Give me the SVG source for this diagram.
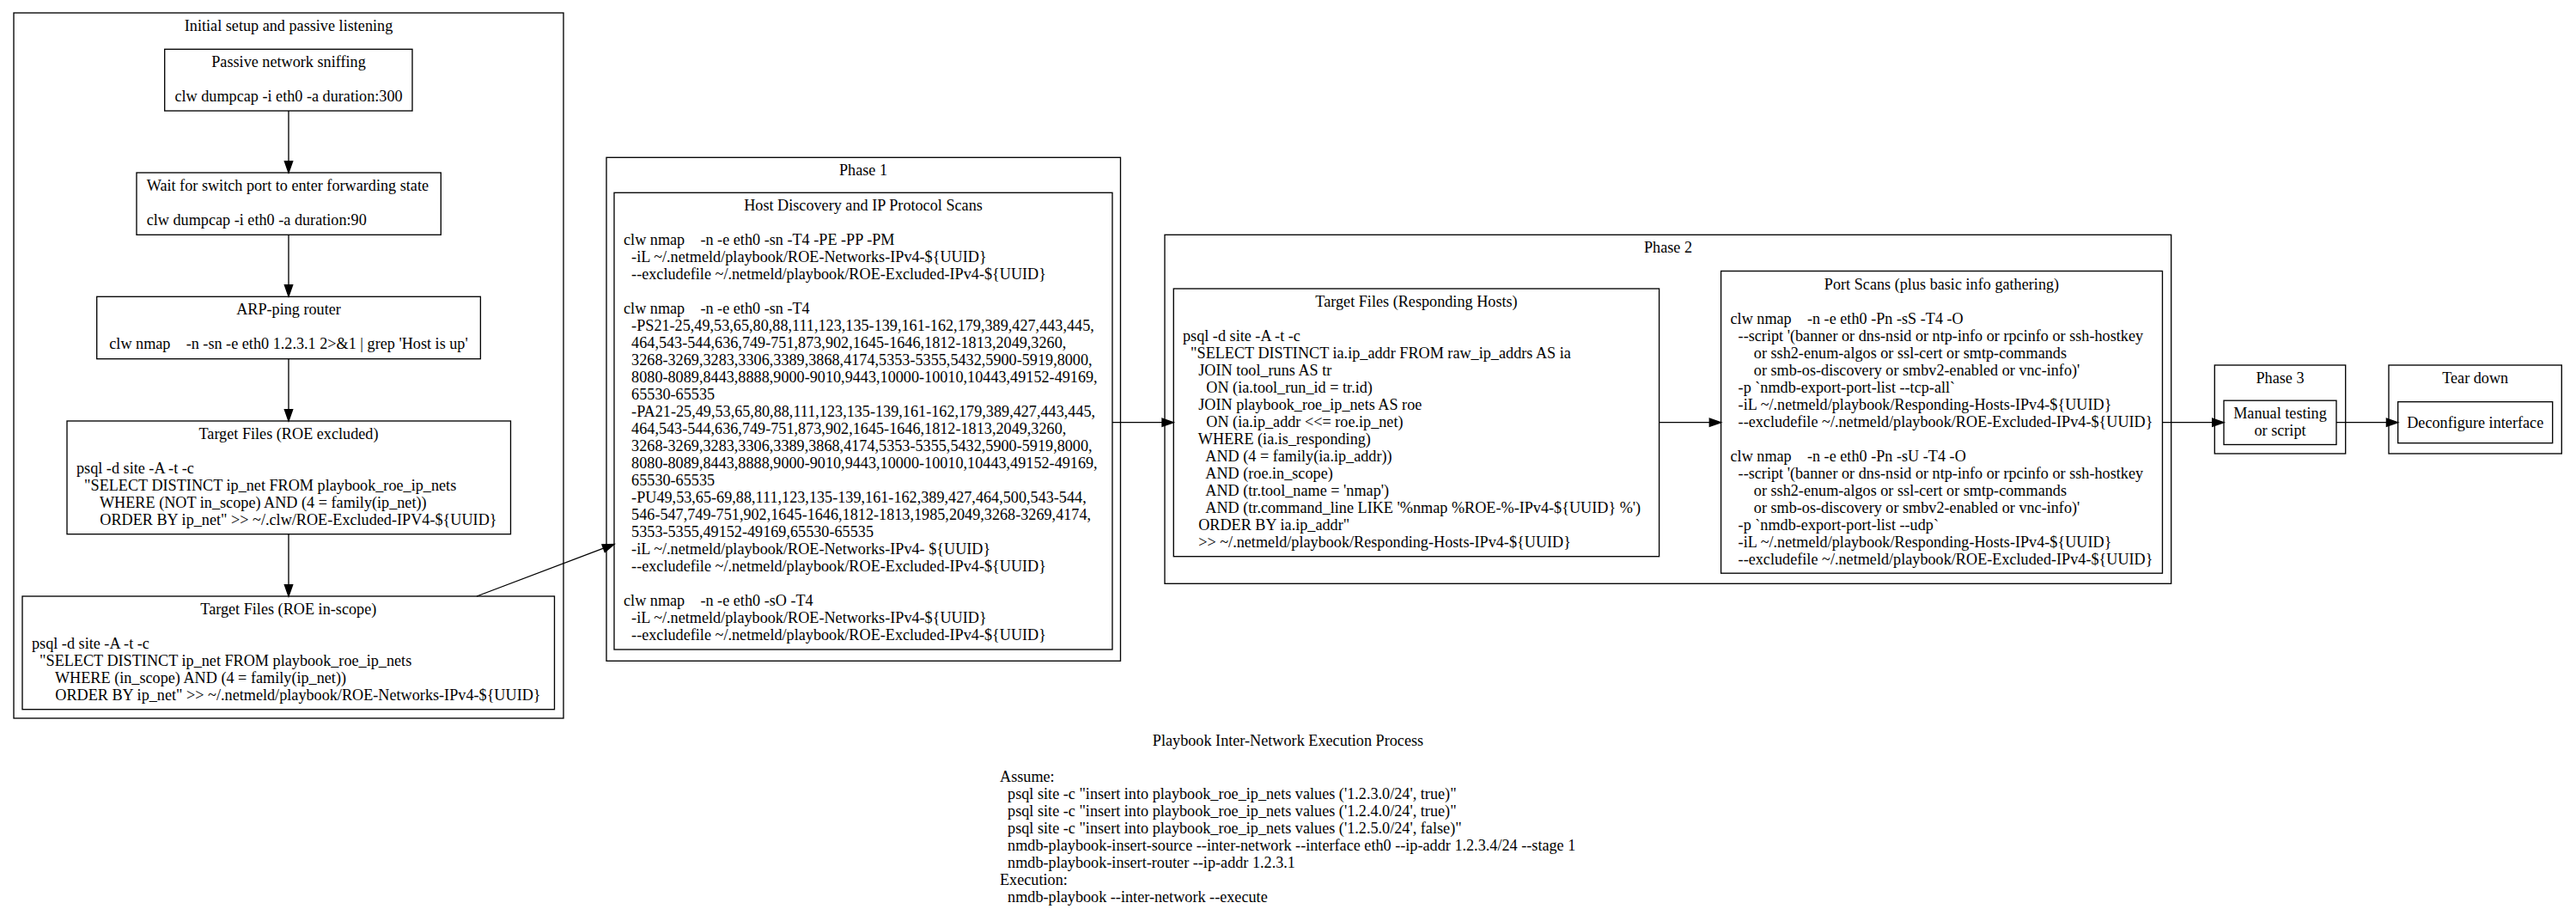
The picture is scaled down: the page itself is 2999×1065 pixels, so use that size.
<svg xmlns="http://www.w3.org/2000/svg" width="2999" height="1065" viewBox="0 0 2999 1065" xml:space="preserve">
<style>
text { font-family: "Liberation Serif", "Times New Roman", serif; font-size: 18.2px; fill: #000; white-space: pre; }
.c { text-anchor: middle; }
.box { fill: none; stroke: #000; stroke-width: 1.33; }
.edge { fill: none; stroke: #000; stroke-width: 1.33; marker-end: url(#arrow); }
</style>
<defs>
<marker id="arrow" markerUnits="userSpaceOnUse" markerWidth="13.3" markerHeight="9.3" viewBox="0 0 13.3 9.3" refX="0" refY="4.65" orient="auto" overflow="visible">
<path d="M0,0 L13.3,4.65 L0,9.3 z" fill="#000" stroke="#000" stroke-width="1.33"/>
</marker>
</defs>
<rect width="2999" height="1065" fill="#fff"/>

<!-- cluster: initial setup -->
<g id="cluster_initial">
<rect class="box" x="16" y="15" width="640" height="821"/>
<text class="c" x="336" y="35.7">Initial setup and passive listening</text>
</g>
<g id="node_passive">
<rect class="box" x="191.7" y="57.3" width="288.3" height="71.7"/>
<text class="c" x="336" y="78.3">Passive network sniffing</text>
<text class="c" x="336" y="118.3">clw dumpcap -i eth0 -a duration:300</text>
</g>
<g id="node_wait">
<rect class="box" x="159" y="201" width="354.3" height="72.3"/>
<text x="170.7" y="222">Wait for switch port to enter forwarding state</text>
<text x="170.7" y="262.3">clw dumpcap -i eth0 -a duration:90</text>
</g>
<g id="node_arp">
<rect class="box" x="112.7" y="345.3" width="446.7" height="72.4"/>
<text class="c" x="336" y="366.3">ARP-ping router</text>
<text class="c" x="336" y="406.3">clw nmap    -n -sn -e eth0 1.2.3.1 2&gt;&amp;1 | grep 'Host is up'</text>
</g>
<g id="node_roe_excluded">
<rect class="box" x="78" y="490" width="516.5" height="131.7"/>
<text class="c" x="336" y="511">Target Files (ROE excluded)</text>
<text x="89" y="551">psql -d site -A -t -c</text>
<text x="89" y="571">  "SELECT DISTINCT ip_net FROM playbook_roe_ip_nets</text>
<text x="89" y="591">      WHERE (NOT in_scope) AND (4 = family(ip_net))</text>
<text x="89" y="611">      ORDER BY ip_net" &gt;&gt; ~/.clw/ROE-Excluded-IPV4-${UUID}</text>
</g>
<g id="node_roe_inscope">
<rect class="box" x="26" y="694" width="619.5" height="131.7"/>
<text class="c" x="335.8" y="715">Target Files (ROE in-scope)</text>
<text x="37" y="755">psql -d site -A -t -c</text>
<text x="37" y="775">  "SELECT DISTINCT ip_net FROM playbook_roe_ip_nets</text>
<text x="37" y="795">      WHERE (in_scope) AND (4 = family(ip_net))</text>
<text x="37" y="815">      ORDER BY ip_net" &gt;&gt; ~/.netmeld/playbook/ROE-Networks-IPv4-${UUID}</text>
</g>

<!-- cluster: phase 1 -->
<g id="cluster_phase1">
<rect class="box" x="706" y="183.3" width="598.5" height="586"/>
<text class="c" x="1005" y="203.5">Phase 1</text>
</g>
<g id="node_host_discovery">
<rect class="box" x="715" y="224.3" width="580" height="531.7"/>
<text class="c" x="1005" y="245.3">Host Discovery and IP Protocol Scans</text>
<text x="726" y="285.3">clw nmap    -n -e eth0 -sn -T4 -PE -PP -PM</text>
<text x="726" y="305.3">  -iL ~/.netmeld/playbook/ROE-Networks-IPv4-${UUID}</text>
<text x="726" y="325.3">  --excludefile ~/.netmeld/playbook/ROE-Excluded-IPv4-${UUID}</text>
<text x="726" y="365.3">clw nmap    -n -e eth0 -sn -T4</text>
<text x="726" y="385.3">  -PS21-25,49,53,65,80,88,111,123,135-139,161-162,179,389,427,443,445,</text>
<text x="726" y="405.3">  464,543-544,636,749-751,873,902,1645-1646,1812-1813,2049,3260,</text>
<text x="726" y="425.3">  3268-3269,3283,3306,3389,3868,4174,5353-5355,5432,5900-5919,8000,</text>
<text x="726" y="445.3">  8080-8089,8443,8888,9000-9010,9443,10000-10010,10443,49152-49169,</text>
<text x="726" y="465.3">  65530-65535</text>
<text x="726" y="485.3">  -PA21-25,49,53,65,80,88,111,123,135-139,161-162,179,389,427,443,445,</text>
<text x="726" y="505.3">  464,543-544,636,749-751,873,902,1645-1646,1812-1813,2049,3260,</text>
<text x="726" y="525.3">  3268-3269,3283,3306,3389,3868,4174,5353-5355,5432,5900-5919,8000,</text>
<text x="726" y="545.3">  8080-8089,8443,8888,9000-9010,9443,10000-10010,10443,49152-49169,</text>
<text x="726" y="565.3">  65530-65535</text>
<text x="726" y="585.3">  -PU49,53,65-69,88,111,123,135-139,161-162,389,427,464,500,543-544,</text>
<text x="726" y="605.3">  546-547,749-751,902,1645-1646,1812-1813,1985,2049,3268-3269,4174,</text>
<text x="726" y="625.3">  5353-5355,49152-49169,65530-65535</text>
<text x="726" y="645.3">  -iL ~/.netmeld/playbook/ROE-Networks-IPv4- ${UUID}</text>
<text x="726" y="665.3">  --excludefile ~/.netmeld/playbook/ROE-Excluded-IPv4-${UUID}</text>
<text x="726" y="705.3">clw nmap    -n -e eth0 -sO -T4</text>
<text x="726" y="725.3">  -iL ~/.netmeld/playbook/ROE-Networks-IPv4-${UUID}</text>
<text x="726" y="745.3">  --excludefile ~/.netmeld/playbook/ROE-Excluded-IPv4-${UUID}</text>
</g>

<!-- cluster: phase 2 -->
<g id="cluster_phase2">
<rect class="box" x="1356" y="273.3" width="1171.7" height="406"/>
<text class="c" x="1942" y="293.5">Phase 2</text>
</g>
<g id="node_responding_hosts">
<rect class="box" x="1366.3" y="336" width="565.3" height="311.7"/>
<text class="c" x="1649" y="357">Target Files (Responding Hosts)</text>
<text x="1377" y="397">psql -d site -A -t -c</text>
<text x="1377" y="417">  "SELECT DISTINCT ia.ip_addr FROM raw_ip_addrs AS ia</text>
<text x="1377" y="437">    JOIN tool_runs AS tr</text>
<text x="1377" y="457">      ON (ia.tool_run_id = tr.id)</text>
<text x="1377" y="477">    JOIN playbook_roe_ip_nets AS roe</text>
<text x="1377" y="497">      ON (ia.ip_addr &lt;&lt;= roe.ip_net)</text>
<text x="1377" y="517">    WHERE (ia.is_responding)</text>
<text x="1377" y="537">      AND (4 = family(ia.ip_addr))</text>
<text x="1377" y="557">      AND (roe.in_scope)</text>
<text x="1377" y="577">      AND (tr.tool_name = 'nmap')</text>
<text x="1377" y="597">      AND (tr.command_line LIKE '%nmap %ROE-%-IPv4-${UUID} %')</text>
<text x="1377" y="617">    ORDER BY ia.ip_addr"</text>
<text x="1377" y="637">    &gt;&gt; ~/.netmeld/playbook/Responding-Hosts-IPv4-${UUID}</text>
</g>
<g id="node_port_scans">
<rect class="box" x="2003.6" y="315.5" width="513.9" height="351.7"/>
<text class="c" x="2260.5" y="336.5">Port Scans (plus basic info gathering)</text>
<text x="2014.5" y="376.5">clw nmap    -n -e eth0 -Pn -sS -T4 -O</text>
<text x="2014.5" y="396.5">  --script '(banner or dns-nsid or ntp-info or rpcinfo or ssh-hostkey</text>
<text x="2014.5" y="416.5">      or ssh2-enum-algos or ssl-cert or smtp-commands</text>
<text x="2014.5" y="436.5">      or smb-os-discovery or smbv2-enabled or vnc-info)'</text>
<text x="2014.5" y="456.5">  -p `nmdb-export-port-list --tcp-all`</text>
<text x="2014.5" y="476.5">  -iL ~/.netmeld/playbook/Responding-Hosts-IPv4-${UUID}</text>
<text x="2014.5" y="496.5">  --excludefile ~/.netmeld/playbook/ROE-Excluded-IPv4-${UUID}</text>
<text x="2014.5" y="536.5">clw nmap    -n -e eth0 -Pn -sU -T4 -O</text>
<text x="2014.5" y="556.5">  --script '(banner or dns-nsid or ntp-info or rpcinfo or ssh-hostkey</text>
<text x="2014.5" y="576.5">      or ssh2-enum-algos or ssl-cert or smtp-commands</text>
<text x="2014.5" y="596.5">      or smb-os-discovery or smbv2-enabled or vnc-info)'</text>
<text x="2014.5" y="616.5">  -p `nmdb-export-port-list --udp`</text>
<text x="2014.5" y="636.5">  -iL ~/.netmeld/playbook/Responding-Hosts-IPv4-${UUID}</text>
<text x="2014.5" y="656.5">  --excludefile ~/.netmeld/playbook/ROE-Excluded-IPv4-${UUID}</text>
</g>

<!-- cluster: phase 3 -->
<g id="cluster_phase3">
<rect class="box" x="2578.3" y="425" width="152.4" height="103"/>
<text class="c" x="2654.5" y="446">Phase 3</text>
</g>
<g id="node_manual">
<rect class="box" x="2589" y="466.2" width="131" height="51.3"/>
<text class="c" x="2654.5" y="487.2">Manual testing</text>
<text class="c" x="2654.5" y="507.2">or script</text>
</g>

<!-- cluster: tear down -->
<g id="cluster_teardown">
<rect class="box" x="2781" y="425" width="201.3" height="103"/>
<text class="c" x="2881.7" y="446">Tear down</text>
</g>
<g id="node_deconfigure">
<rect class="box" x="2791.7" y="467.7" width="180" height="48"/>
<text class="c" x="2881.7" y="498">Deconfigure interface</text>
</g>

<!-- connectors: each line stops at the arrowhead base -->
<g id="edges">
<path class="edge" d="M336,129 L336,187.7"/>
<path class="edge" d="M336,273.3 L336,331.7"/>
<path class="edge" d="M336,417.7 L336,476.7"/>
<path class="edge" d="M336,621.7 L336,680.7"/>
<path class="edge" d="M555,694 L702.56,638.2"/>
<path class="edge" d="M1295,491.7 L1353,491.7"/>
<path class="edge" d="M1931.6,491.7 L1990.3,491.7"/>
<path class="edge" d="M2517.5,491.7 L2575.7,491.7"/>
<path class="edge" d="M2720,491.7 L2778.4,491.7"/>
</g>

<!-- graph label -->
<g id="graph_label">
<text class="c" x="1499.5" y="868">Playbook Inter-Network Execution Process</text>
<text x="1164" y="910">Assume:</text>
<text x="1164" y="930">  psql site -c "insert into playbook_roe_ip_nets values ('1.2.3.0/24', true)"</text>
<text x="1164" y="950">  psql site -c "insert into playbook_roe_ip_nets values ('1.2.4.0/24', true)"</text>
<text x="1164" y="970">  psql site -c "insert into playbook_roe_ip_nets values ('1.2.5.0/24', false)"</text>
<text x="1164" y="990">  nmdb-playbook-insert-source --inter-network --interface eth0 --ip-addr 1.2.3.4/24 --stage 1</text>
<text x="1164" y="1010">  nmdb-playbook-insert-router --ip-addr 1.2.3.1</text>
<text x="1164" y="1030">Execution:</text>
<text x="1164" y="1050">  nmdb-playbook --inter-network --execute</text>
</g>
</svg>
